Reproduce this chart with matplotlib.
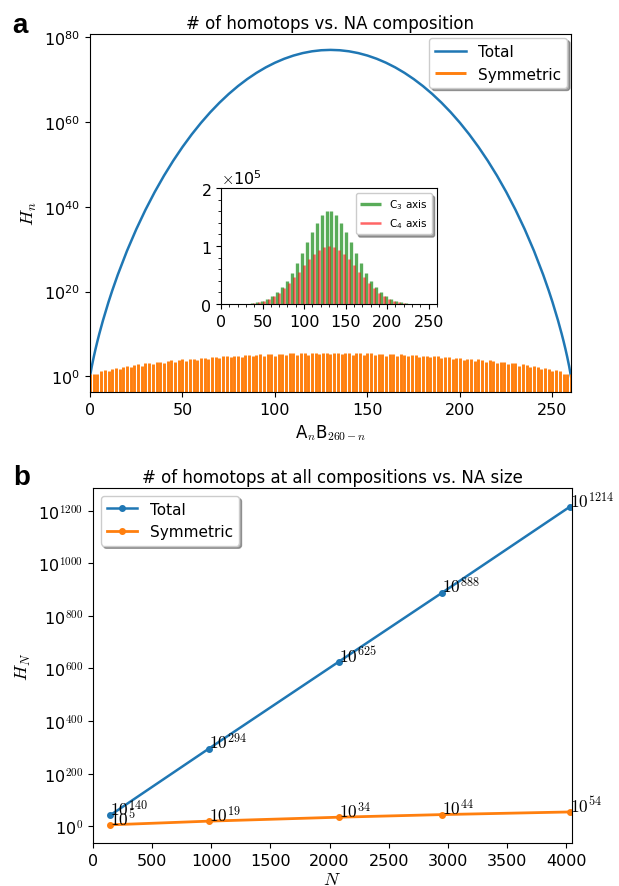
import numpy as np
import matplotlib
matplotlib.use('Agg')
import matplotlib.pyplot as plt
from matplotlib.ticker import NullLocator

# panel a: total homotops for A_n B_(260-n), log10 values
n_total = [0, 1, 2, 3, 4, 5, 7, 10, 12, 15, 20, 25, 30, 35, 40, 45, 50, 55, 60, 65, 70, 75,
           80, 85, 90, 95, 100, 105, 110, 115, 120, 125, 130,
           135, 140, 145, 150, 155, 160, 165, 170, 175, 180, 185, 190, 195, 200, 205, 210,
           215, 220, 225, 230, 235, 240, 245, 248, 250, 253, 255, 256, 257, 258, 259, 260]
log_total = [0, 2.415, 4.527, 6.462, 8.270, 9.979, 13.167, 17.517, 20.190, 23.930, 29.589,
             34.666, 39.270, 43.470, 47.314, 50.839, 54.075, 57.046, 59.766, 62.254, 64.519,
             66.573, 68.426, 70.081, 71.550, 72.836, 73.939, 74.869, 75.625, 76.210, 76.628,
             76.879, 76.962,
             76.879, 76.628, 76.210, 75.625, 74.869, 73.939, 72.836, 71.550, 70.081, 68.426,
             66.573, 64.519, 62.254, 59.766, 57.046, 54.075, 50.839, 47.314, 43.470, 39.270,
             34.666, 29.589, 23.930, 20.190, 17.517, 13.167, 9.979, 8.270, 6.462, 4.527,
             2.415, 0]

# symmetric homotops (bars at even n), log10 heights
n_sym = list(range(0, 261, 2))
log_sym = [0.6, 0.55, 0.5, 1.15, 1.4, 1.25, 1.8, 1.95, 1.7, 2.25, 2.4, 2.15, 2.65, 2.8, 2.55,
           3.05, 3.15, 2.9, 3.35, 3.45, 3.2, 3.65, 3.75, 3.45, 3.9, 4.0, 3.7, 4.15, 4.2, 3.9,
           4.35, 4.4, 4.1, 4.55, 4.6, 4.3, 4.7, 4.75, 4.45, 4.85, 4.9, 4.6, 5.0, 5.05, 4.7,
           5.1, 5.15, 4.8, 5.2, 5.25, 4.9, 5.3, 5.35, 5.0, 5.4, 5.4, 5.05, 5.45, 5.45, 5.1,
           5.5, 5.5, 5.15, 5.55, 5.55, 5.15,
           5.55, 5.55, 5.15, 5.5, 5.5, 5.1, 5.45, 5.45, 5.05, 5.4, 5.4, 5.0, 5.35, 5.3, 4.9,
           5.25, 5.2, 4.8, 5.15, 5.1, 4.7, 5.05, 5.0, 4.6, 4.9, 4.85, 4.45, 4.75, 4.7, 4.3,
           4.6, 4.55, 4.1, 4.4, 4.35, 3.9, 4.2, 4.15, 3.7, 4.0, 3.9, 3.45, 3.75, 3.65, 3.2,
           3.45, 3.35, 2.9, 3.15, 3.05, 2.55, 2.8, 2.65, 2.15, 2.4, 2.25, 1.7, 1.95, 1.8, 1.25,
           1.4, 1.15, 0.5, 0.55, 0.6]

# inset: symmetric homotops about C3 and C4 axes
n_c3 = list(range(1, 260, 6))
h_c3 = [0, 0, 0, 100, 300, 700, 1500, 2800, 5000, 8500, 13500, 20000, 29000, 40000, 54000,
        70000, 88000, 107000, 124000, 140000, 153000, 160000,
        160000, 153000, 140000, 124000, 107000, 88000, 70000, 54000, 40000, 29000, 20000,
        13500, 8500, 5000, 2800, 1500, 700, 300, 100, 0, 0, 0]
n_c4 = list(range(4, 257, 6))
h_c4 = [0, 0, 0, 150, 400, 900, 1800, 3200, 5500, 9000, 13500, 19500, 27000, 36000, 46000,
        56000, 67000, 77000, 86000, 93000, 98000, 100000,
        98000, 93000, 86000, 77000, 67000, 56000, 46000, 36000, 27000, 19500, 13500, 9000,
        5500, 3200, 1800, 900, 400, 150, 0, 0, 0]

# panel b: homotops at all compositions vs size
N_size = [147, 977, 2077, 2953, 4030]
log_tot_b = [42, 294, 625, 888, 1214]
tot_labels = [140, 294, 625, 888, 1214]
log_sym_b = [5, 19, 34, 44, 54]

yexp_a = [0, 20, 40, 60, 80]
yexp_b = [0, 200, 400, 600, 800, 1000, 1200]

plt.rcParams['mathtext.fontset'] = 'cm'
plt.rcParams['font.size'] = 11.5

fig = plt.figure(figsize=(6.19, 8.87), dpi=100)

# ---- panel a
ax1 = fig.add_axes([0.1454, 0.5569, 0.777, 0.4036])
ax1.plot(n_total, 10.0 ** np.array(log_total), color='C0', lw=1.8, label='Total')
ax1.vlines(n_sym, 1e-6, 10.0 ** np.array(log_sym), color='C1', lw=2.1, label='Symmetric')
ax1.set_yscale('log')
ax1.set_xlim(0, 260)
ax1.set_ylim(10 ** -3.7, 10 ** 80.7)
ax1.set_yticks([10.0 ** e for e in yexp_a])
ax1.set_yticklabels([r'$\mathdefault{10^{%d}}$' % e for e in yexp_a])
ax1.yaxis.set_minor_locator(NullLocator())
ax1.set_xticks([0, 50, 100, 150, 200, 250])
ax1.set_xlabel(r'A$_n$B$_{260-n}$', fontsize=12)
ax1.set_ylabel(r'$H_n$', fontsize=13)
ax1.set_title('# of homotops vs. NA composition', fontsize=12, pad=4)
ax1.legend(loc='upper right', shadow=True, fontsize=11, borderaxespad=0.25)

# ---- inset
axi = fig.add_axes([0.357, 0.6561, 0.349, 0.1308])
axi.vlines(n_c3, 0, h_c3, color='g', alpha=0.65, lw=2.4, label=r'C$_\mathdefault{3}$ axis')
axi.vlines(n_c4, 0, h_c4, color='r', alpha=0.6, lw=1.8, label=r'C$_\mathdefault{4}$ axis')
axi.set_xlim(0, 260)
axi.set_ylim(0, 2e5)
axi.set_xticks([0, 50, 100, 150, 200, 250])
axi.set_yticks([0, 1e5, 2e5])
axi.ticklabel_format(axis='y', style='sci', scilimits=(0, 0), useMathText=True)
axi.minorticks_on()
axi.legend(loc='upper right', shadow=True, fontsize=7.5)

# ---- panel b
ax2 = fig.add_axes([0.1502, 0.0485, 0.7738, 0.4002])
ax2.plot(N_size, log_tot_b, 'o-', color='C0', ms=4, lw=1.8, label='Total')
ax2.plot(N_size, log_sym_b, 'o-', color='C1', ms=4, lw=2.0, label='Symmetric')
for x, y, e in zip(N_size, log_tot_b, tot_labels):
    ax2.text(x, y, r'$10^{%d}$' % e, ha='left', va='baseline', fontsize=12.5)
for x, y in zip(N_size, log_sym_b):
    ax2.text(x, y, r'$10^{%d}$' % y, ha='left', va='baseline', fontsize=12.5)
ax2.set_xlim(0, 4050)
ax2.set_ylim(-64, 1286)
ax2.set_yticks(yexp_b)
ax2.set_yticklabels([r'$\mathdefault{10}^{%d}$' % e for e in yexp_b])
ax2.set_xticks(range(0, 4001, 500))
ax2.set_xlabel(r'$N$', fontsize=13, labelpad=2)
ax2.set_ylabel(r'$H_N$', fontsize=13)
ax2.set_title('# of homotops at all compositions vs. NA size', fontsize=12, pad=4)
ax2.legend(loc='upper left', shadow=True, fontsize=11)

fig.text(0.019, 0.9628, 'a', fontsize=20, weight='bold', family='Liberation Sans', va='baseline')
fig.text(0.022, 0.4532, 'b', fontsize=20, weight='bold', family='Liberation Sans', va='baseline')

fig.savefig('out.png', dpi=100)
